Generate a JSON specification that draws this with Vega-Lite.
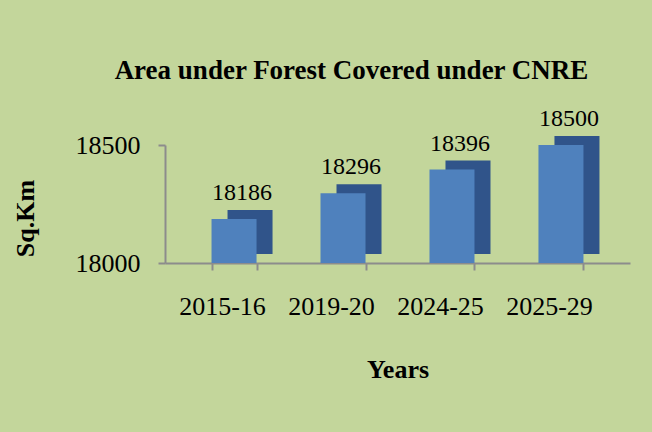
{
  "$schema": "https://vega.github.io/schema/vega-lite/v6.json",
  "autosize": {"type": "none"},
  "width": 465,
  "height": 118,
  "padding": {"left": 165, "top": 145, "right": 22, "bottom": 169},
  "background": "#c3d69b",
  "title": {
    "text": "Area under Forest Covered under CNRE",
    "font": "Liberation Serif",
    "fontSize": 27,
    "fontWeight": "bold",
    "color": "#000000",
    "anchor": "middle",
    "dx": -46,
    "offset": 22
  },
  "data": {
    "values": [
      {"period": "2015-16", "area": 18186},
      {"period": "2019-20", "area": 18296},
      {"period": "2024-25", "area": 18396},
      {"period": "2025-29", "area": 18500}
    ]
  },
  "encoding": {
    "x": {
      "field": "period",
      "type": "ordinal",
      "sort": null,
      "scale": {"paddingInner": 0.587, "paddingOuter": 0.427},
      "axis": {
        "title": "Years",
        "labelAngle": 0,
        "labelFont": "Liberation Serif",
        "labelFontSize": 26,
        "labelColor": "#000000",
        "labelPadding": 23,
        "labelOffset": -12,
        "titleFont": "Liberation Serif",
        "titleFontSize": 26,
        "titleFontWeight": "bold",
        "titleColor": "#000000",
        "titlePadding": 37,
        "domainColor": "#8c8c8c",
        "domainWidth": 2,
        "tickColor": "#8c8c8c",
        "tickWidth": 2,
        "tickSize": 7,
        "tickBand": "extent"
      }
    },
    "y": {
      "field": "area",
      "type": "quantitative",
      "scale": {"domain": [18000, 18500], "zero": false, "nice": false},
      "axis": {
        "title": "Sq.Km",
        "values": [18000, 18500],
        "format": "d",
        "grid": false,
        "labelFont": "Liberation Serif",
        "labelFontSize": 26,
        "labelColor": "#000000",
        "labelPadding": 18,
        "titleFont": "Liberation Serif",
        "titleFontSize": 26,
        "titleFontWeight": "bold",
        "titleColor": "#000000",
        "titlePadding": 37,
        "titleY": 73,
        "domainColor": "#8c8c8c",
        "domainWidth": 2,
        "tickColor": "#8c8c8c",
        "tickWidth": 2,
        "tickSize": 7
      }
    }
  },
  "layer": [
    {
      "mark": {
        "type": "bar",
        "color": "#30548a",
        "xOffset": 16,
        "x2Offset": 16,
        "yOffset": -9,
        "y2Offset": -9
      },
      "encoding": {"y2": {"datum": 18000}}
    },
    {
      "mark": {"type": "bar", "color": "#4f81bd"},
      "encoding": {"y2": {"datum": 18000}}
    },
    {
      "mark": {
        "type": "text",
        "font": "Liberation Serif",
        "fontSize": 24,
        "color": "#000000",
        "baseline": "bottom",
        "dx": 8,
        "dy": -14
      },
      "encoding": {
        "text": {"field": "area", "type": "quantitative", "format": "d"}
      }
    }
  ],
  "config": {
    "view": {"stroke": null}
  }
}
